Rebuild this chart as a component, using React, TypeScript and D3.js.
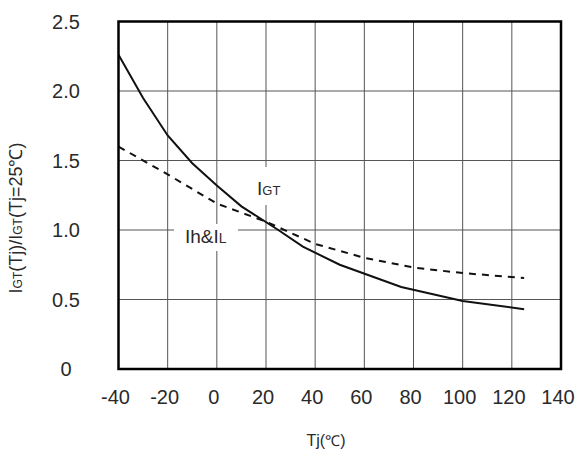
import React from "react";
import * as d3 from "d3";

const xTicks = [-40, -20, 0, 20, 40, 60, 80, 100, 120, 140];
const yTicks = [0, 0.5, 1.0, 1.5, 2.0, 2.5];
const yTickLabels = ["0", "0.5", "1.0", "1.5", "2.0", "2.5"];

const igtT = [-40, -30, -20, -10, 0, 10, 25, 35, 50, 75, 100, 125];
const igtV = [2.26, 1.95, 1.68, 1.48, 1.32, 1.17, 1.0, 0.88, 0.75, 0.59, 0.49, 0.43];

const ihT = [-40, -20, 0, 20, 40, 60, 80, 100, 125];
const ihV = [1.6, 1.4, 1.19, 1.06, 0.9, 0.8, 0.73, 0.69, 0.655];

export default function App() {
  const W = 576, H = 453;
  const x = d3.scaleLinear().domain([-40, 140]).range([118.5, 561]);
  const y = d3.scaleLinear().domain([0, 2.5]).range([369, 21.5]);
  const line = d3.line<[number, number]>().x(d => x(d[0])).y(d => y(d[1]));
  const igt = igtT.map((t, i) => [t, igtV[i]] as [number, number]);
  const ih = ihT.map((t, i) => [t, ihV[i]] as [number, number]);
  const font = "Liberation Sans, Arial, sans-serif";
  const col = "#2a2a2a";
  return (
    <svg width={W} height={H} style={{ position: "absolute", left: 0, top: 0 }} fontFamily={font}>
      <rect width={W} height={H} fill="#fff" />
      {xTicks.slice(1, -1).map(t => (
        <line key={"gx" + t} x1={x(t)} x2={x(t)} y1={y(2.5)} y2={y(0)} stroke="#555" strokeWidth={1} />
      ))}
      {yTicks.slice(1, -1).map(t => (
        <line key={"gy" + t} x1={x(-40)} x2={x(140)} y1={y(t)} y2={y(t)} stroke="#555" strokeWidth={1} />
      ))}
      {/* label backgrounds */}
      <rect x={252} y={167} width={40} height={38} fill="#fff" />
      <rect x={174} y={224} width={64} height={27} fill="#fff" />
      <path d={line(ih) || ""} fill="none" stroke="#111" strokeWidth={2} strokeDasharray="7,6" />
      <path d={line(igt) || ""} fill="none" stroke="#111" strokeWidth={2} />
      <rect x={x(-40)} y={y(2.5)} width={x(140) - x(-40)} height={y(0) - y(2.5)} fill="none" stroke="#000" strokeWidth={2.5} />
      {xTicks.map(t => (
        <text key={"xt" + t} x={x(t) - 3} y={404} textAnchor="middle" fontSize={20} fill={col}>{t}</text>
      ))}
      {yTicks.map((t, i) => (
        <text key={"yt" + t} x={66} y={y(t)} dy="0.36em" textAnchor="middle" fontSize={20} fill={col}>{yTickLabels[i]}</text>
      ))}
      <text x={257} y={195} fontSize={19} fill={col}>I<tspan fontSize={13}>GT</tspan></text>
      <text x={185} y={243} fontSize={19} fill={col}>Ih&amp;I<tspan fontSize={14}>L</tspan></text>
      <text x={326} y={446} textAnchor="middle" fontSize={16} fill={col}>Tj(<tspan fontSize={15}>℃</tspan>)</text>
      <text transform="translate(22,218) rotate(-90)" textAnchor="middle" fontSize={18} fill={col}>
        I<tspan fontSize={12}>GT</tspan>(Tj)/I<tspan fontSize={12}>GT</tspan>(Tj=25℃)
      </text>
    </svg>
  );
}
